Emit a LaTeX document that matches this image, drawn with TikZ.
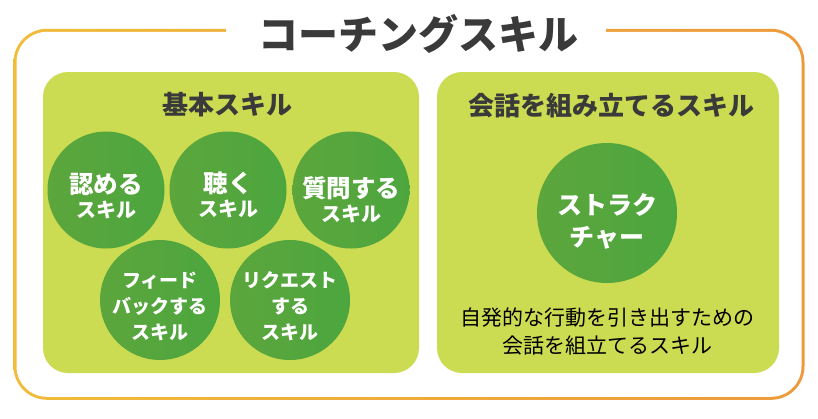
\documentclass[tikz,border=0pt]{standalone}
\usepackage{fontspec}
\setmainfont{Noto Sans CJK JP}
\usetikzlibrary{shapes.geometric}
\definecolor{frameL}{RGB}{240,188,58}
\definecolor{frameR}{RGB}{238,154,60}
\definecolor{panel}{RGB}{204,220,82}
\definecolor{cirL}{RGB}{92,166,60}
\definecolor{cirM}{RGB}{100,176,64}
\definecolor{cirR}{RGB}{76,166,62}
\definecolor{ink}{RGB}{58,58,58}
\tikzset{
  panelbox/.style={fill=panel, rounded corners=25pt},
  skill/.style={circle, inner sep=0pt, minimum size=#1, left color=cirL, middle color=cirM, right color=cirR, shading angle=90},
  ctext/.style={text=white, align=center, inner sep=0pt, font=\bfseries\fontsize{24.5}{24}\selectfont},
  ctextb/.style={text=white, align=center, inner sep=0pt, font=\bfseries\fontsize{19}{26}\selectfont},
  heading/.style={text=ink, font=\bfseries\fontsize{26}{30}\selectfont, inner sep=0pt},
}
\newcommand{\csml}{\fontsize{20}{24}\selectfont}
\begin{document}
\begin{tikzpicture}[x=1pt,y=-1pt]
\useasboundingbox (0,0) rectangle (818,418);
% outer frame (shaded ring)
\shade[left color=frameL, right color=frameR, rounded corners=33.5pt] (13.5,28.8) rectangle (804.5,399.8);
\fill[white, rounded corners=30.5pt] (16.5,31.8) rectangle (801.5,396.8);
\fill[white] (226,24) rectangle (606,38);
\node[text=ink, font=\bfseries\fontsize{40}{40}\selectfont, inner sep=0pt] (title) at (418,34) {コーチングスキル};
% panels
\fill[panelbox] (43,72) rectangle (419,373);
\fill[panelbox] (437,72) rectangle (779,373);
\node[heading] (basic) at (227,105) {基本スキル};
\node[heading] (struct) at (611,106) {会話を組み立てるスキル};
% circles
\node[skill=117pt] (c1) at (106,190) {};
\node[skill=117pt] (c2) at (228,190) {};
\node[skill=117pt] (c3) at (351,190) {};
\node[skill=120pt] (c4) at (160,300) {};
\node[skill=120pt] (c5) at (290,300) {};
\node[skill=140pt] (c6) at (607,213) {};
% circle texts
\node[ctext] (t1) at (106,196) {認める\\{\csml スキル}};
\node[ctext] (t2) at (228,195) {聴く\\{\csml スキル}};
\node[ctext] (t3) at (351,200) {質問する\\{\csml スキル}};
\node[ctextb] (t4) at (160,306) {フィード\\バックする\\スキル};
\node[ctextb] (t5) at (290,306) {リクエスト\\する\\スキル};
\node[ctext, font=\bfseries\fontsize{25}{32}\selectfont] (t6) at (607,221) {ストラク\\チャー};
\node[text=black, align=center, font=\fontsize{21}{28}\selectfont, inner sep=0pt] (desc) at (607,332) {自発的な行動を引き出すための\\会話を組立てるスキル};
\end{tikzpicture}
\end{document}
